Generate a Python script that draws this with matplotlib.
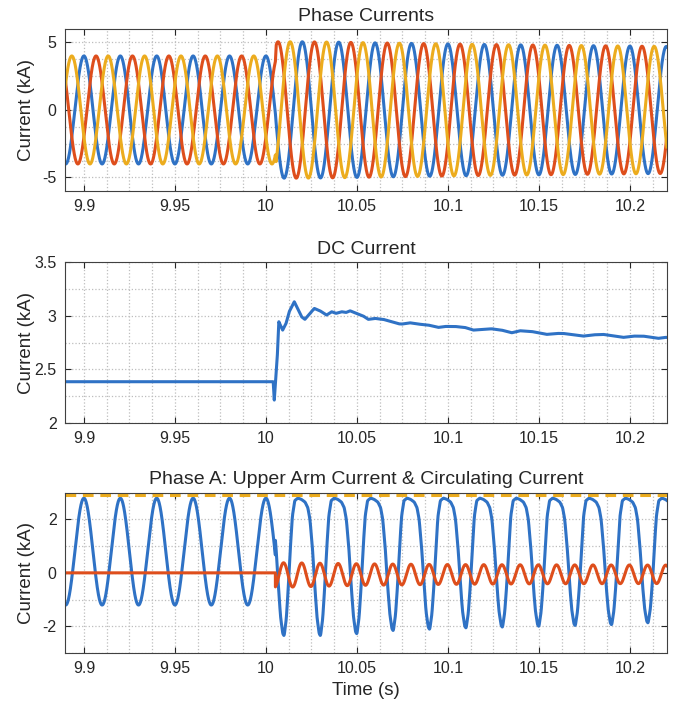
import numpy as np
import matplotlib
matplotlib.use("Agg")
import matplotlib.pyplot as plt
from matplotlib.ticker import MultipleLocator

plt.rcParams['font.family'] = ['Liberation Sans', 'DejaVu Sans']

# ---- values ----
t_start, t_end = 9.8896, 10.2203
t_fault = 10.0052
f_grid = 50.0
peak_a = 10.0            # a phase A positive peak

# phase current amplitude (kA) at a few times
amp_t = [9.885, 10.0052, 10.0056, 10.02, 10.04, 10.06, 10.08, 10.10, 10.12, 10.14, 10.16, 10.18, 10.20, 10.222]
amp_v = [4.0, 4.0, 5.05, 5.05, 5.02, 4.97, 4.93, 4.89, 4.85, 4.82, 4.79, 4.76, 4.73, 4.70]

# DC current trace (s, kA)
dc_t = [9.885, 10.0040, 10.0046, 10.0062, 10.0071, 10.0092, 10.0110, 10.0128, 10.0156, 10.0178,
        10.0196, 10.0214, 10.0242, 10.0266, 10.0297, 10.0333, 10.0361, 10.0385, 10.0416, 10.0440,
        10.0462, 10.0498, 10.0535, 10.0562, 10.0599, 10.0645, 10.0690, 10.0727, 10.0746, 10.0791,
        10.0837, 10.0892, 10.0947, 10.0984, 10.1038, 10.1093, 10.1139, 10.1185, 10.1240, 10.1295,
        10.1350, 10.1396, 10.1460, 10.1542, 10.1600, 10.1633, 10.1743, 10.1800, 10.1853, 10.1963,
        10.2020, 10.2073, 10.2155, 10.2192, 10.2220]
dc_v = [2.385, 2.385, 2.214, 2.60, 2.944, 2.866, 2.925, 3.037, 3.130, 3.053,
        2.990, 2.966, 3.022, 3.068, 3.046, 3.006, 3.037, 3.022, 3.037, 3.030,
        3.046, 3.022, 2.997, 2.966, 2.975, 2.966, 2.944, 2.925, 2.922, 2.934,
        2.922, 2.913, 2.891, 2.900, 2.900, 2.891, 2.866, 2.872, 2.878, 2.866,
        2.841, 2.860, 2.853, 2.826, 2.835, 2.835, 2.810, 2.822, 2.826, 2.798,
        2.810, 2.810, 2.789, 2.798, 2.798]

# upper arm current, one post-fault cycle measured from its trough (s, kA)
arm_tau = [0.0, 0.0012, 0.0023, 0.0035, 0.0045, 0.0058, 0.0075, 0.0095, 0.0115, 0.0130,
           0.0142, 0.0155, 0.0167, 0.0180, 0.0192]
arm_shape = [-2.20, -1.60, -0.50, 1.00, 2.10, 2.70, 2.80, 2.75, 2.65, 2.45,
             2.00, 1.00, -0.30, -1.50, -2.10]
trough_t = [10.01, 10.03, 10.05, 10.07, 10.09, 10.11, 10.13, 10.15, 10.17, 10.19, 10.21]
trough_v = [-2.37, -2.37, -2.30, -2.18, -2.13, -2.08, -2.05, -2.02, -1.99, -1.96, -1.89]
arm_limit = 2.9

# circulating current envelope (100 Hz)
circ_peak_time = 10.0097
circ_t = [10.005, 10.02, 10.05, 10.10, 10.15, 10.222]
circ_hi = [0.38, 0.37, 0.34, 0.31, 0.30, 0.29]
circ_lo = [-0.55, -0.52, -0.47, -0.43, -0.41, -0.40]

c_blue = '#2F72C5'
c_red = '#DE4E1C'
c_yel = '#ECAC1E'
txt = '#262626'

# ---- build traces ----
t = np.arange(9.885, 10.2225, 2e-5)
w = 2 * np.pi * f_grid
amp = np.interp(t, amp_t, amp_v)
ia = amp * np.cos(w * (t - peak_a))
ib = amp * np.cos(w * (t - peak_a) - 2 * np.pi / 3)
ic = amp * np.cos(w * (t - peak_a) + 2 * np.pi / 3)

dc = np.interp(t, dc_t, dc_v)

tau = (t - trough_t[0]) % 0.02
shape = np.interp(tau, arm_tau, arm_shape, period=0.02)
depth = np.interp(t, trough_t, trough_v)
post = np.where(shape < 0, shape * depth / min(arm_shape), shape)
k = np.ones(25) / 25
post = np.convolve(np.pad(post, 12, mode='edge'), k, mode='valid')
pre = dc_v[0] / 3 + ia / 2
arm = np.where(t < t_fault, pre, post)

hi = np.interp(t, circ_t, circ_hi)
lo = np.interp(t, circ_t, circ_lo)
circ = (hi + lo) / 2 + (hi - lo) / 2 * np.cos(2 * w * (t - circ_peak_time))
circ = np.where(t < t_fault, 0.0, circ)

# ---- figure ----
fig = plt.figure(figsize=(6.77, 7.06), dpi=100)
ax1 = fig.add_axes([0.096, 0.7295, 0.889, 0.2295])
ax2 = fig.add_axes([0.096, 0.4008, 0.889, 0.228])
ax3 = fig.add_axes([0.096, 0.0751, 0.889, 0.227])

lw = 2.2
ax1.plot(t, ia, color=c_blue, lw=lw)
ax1.plot(t, ib, color=c_red, lw=lw)
ax1.plot(t, ic, color=c_yel, lw=lw)
ax2.plot(t, dc, color=c_blue, lw=lw)
ax3.plot(t, arm, color=c_blue, lw=lw)
ax3.plot(t, circ, color=c_red, lw=lw)
ax3.axhline(arm_limit, color=c_yel, lw=lw, ls=(0, (3.5, 2.2)))

xticks = [9.9, 9.95, 10.0, 10.05, 10.1, 10.15, 10.2]
xlabels = ['9.9', '9.95', '10', '10.05', '10.1', '10.15', '10.2']
setup = [
    (ax1, (-6, 6), [-5, 0, 5], ['-5', '0', '5'], 1.25, 'Phase Currents'),
    (ax2, (2, 3.5), [2, 2.5, 3, 3.5], ['2', '2.5', '3', '3.5'], 0.25, 'DC Current'),
    (ax3, (-3, 3), [-2, 0, 2], ['-2', '0', '2'], 1.0,
     'Phase A: Upper Arm Current & Circulating Current'),
]
for ax, ylim, yt, yl, ymin, title in setup:
    ax.set_xlim(t_start, t_end)
    ax.set_ylim(*ylim)
    ax.set_xticks(xticks)
    ax.set_xticklabels(xlabels)
    ax.set_yticks(yt)
    ax.set_yticklabels(yl)
    ax.xaxis.set_minor_locator(MultipleLocator(0.0125))
    ax.yaxis.set_minor_locator(MultipleLocator(ymin))
    ax.grid(which='both', linestyle=':', color='#bdbdbd', linewidth=0.9)
    ax.set_axisbelow(True)
    ax.tick_params(which='major', direction='in', length=4, width=0.8, top=True, right=True,
                   labelsize=11.5, colors=txt, pad=6)
    ax.tick_params(which='minor', length=0, top=True, right=True)
    for s in ax.spines.values():
        s.set_color('#404040')
        s.set_linewidth(0.8)
    ax.set_title(title, fontsize=14, color=txt, pad=6)
    ax.set_ylabel('Current (kA)', fontsize=13.5, color=txt)
    ax.yaxis.set_label_coords(-0.05, 0.5)

ax3.set_xlabel('Time (s)', fontsize=13.5, color=txt, labelpad=4)

fig.savefig('out.png', dpi=100)
